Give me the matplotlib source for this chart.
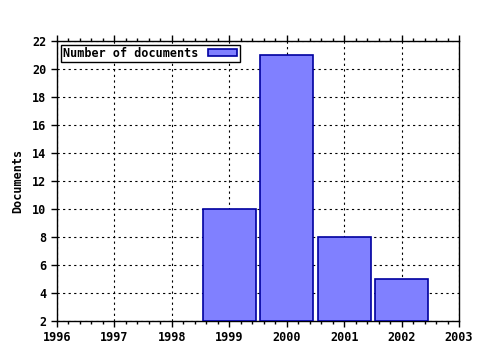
import matplotlib
matplotlib.use("Agg")
import matplotlib.pyplot as plt
from matplotlib.ticker import MultipleLocator

# data
years = [1999, 2000, 2001, 2002]
documents = [10, 21, 8, 5]
xticks = [1996, 1997, 1998, 1999, 2000, 2001, 2002, 2003]
yticks = [2, 4, 6, 8, 10, 12, 14, 16, 18, 20, 22]

plt.rcParams['font.family'] = 'DejaVu Sans Mono'
plt.rcParams['font.weight'] = 'bold'

fig = plt.figure(figsize=(4.8, 3.5), dpi=100)
ax = fig.add_axes([57/480, 1-321/350, (459-57)/480, (321-41)/350])

ax.bar(years, [d - 2 for d in documents], bottom=2, width=0.92,
       color='#8080ff', edgecolor='#0000a0', linewidth=1.2,
       label='Number of documents', zorder=3)

ax.set_xlim(1996, 2003)
ax.set_ylim(2, 22)
ax.set_xticks(xticks)
ax.set_yticks(yticks)
ax.xaxis.set_minor_locator(MultipleLocator(0.2))

# x axis: ticks outward, top and bottom; y axis: left only, outward
ax.tick_params(axis='x', which='both', direction='out', top=True, bottom=True,
               labelsize=8.5, width=1, color='black')
ax.tick_params(axis='x', which='major', length=4)
ax.tick_params(axis='x', which='minor', length=2)
ax.tick_params(axis='y', which='major', direction='out', left=True, right=False,
               length=4, labelsize=8.5, width=1)
ax.grid(True, which='major', linestyle=(0, (2, 3)), color='black', linewidth=0.8, zorder=0)
for s in ax.spines.values():
    s.set_linewidth(1)

ax.set_ylabel('Documents', fontsize=8.5, fontweight='bold', labelpad=6)

leg = ax.legend(loc='upper left', fontsize=8.5, frameon=True, fancybox=False,
                borderpad=0.2, handlelength=2.5, handleheight=0.6,
                borderaxespad=0.3, markerfirst=False)
leg.get_frame().set_edgecolor('black')
leg.get_frame().set_linewidth(1)
leg.get_frame().set_alpha(1)

fig.savefig('out.png', dpi=100)
